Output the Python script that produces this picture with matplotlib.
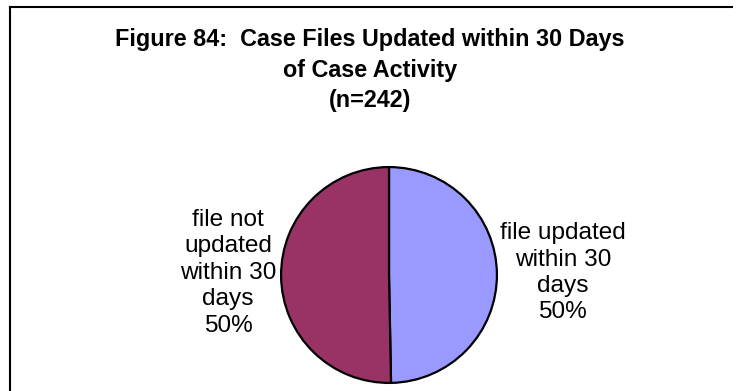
import matplotlib
matplotlib.use("Agg")
import matplotlib.pyplot as plt
from matplotlib.lines import Line2D

title = "Figure 84:  Case Files Updated within 30 Days\nof Case Activity\n(n=242)"
categories = ["file updated\nwithin 30\ndays", "file not\nupdated\nwithin 30\ndays"]
values = [49.7, 50.3]
pct_labels = ["50%", "50%"]
colors = ["#9999FF", "#993366"]

W, H = 737, 391
fig = plt.figure(figsize=(W / 100, H / 100), dpi=100)
fig.patch.set_facecolor("white")

# border (left and top visible)
fig.add_artist(Line2D([9.5 / W, 9.5 / W], [0, 1 - 6.5 / H], transform=fig.transFigure,
                      color="black", lw=1.5, solid_capstyle="projecting"))
fig.add_artist(Line2D([9.5 / W, 732 / W], [1 - 6.5 / H, 1 - 6.5 / H], transform=fig.transFigure,
                      color="black", lw=1.5, solid_capstyle="projecting"))

fig.text(370 / W, 1 - 70 / H, title, ha="center", va="center", fontsize=16.8,
         fontweight="bold", family="Liberation Sans", linespacing=1.4)

cx, cy, r = 389, 275, 109
ax = fig.add_axes([(cx - r) / W, 1 - (cy + r) / H, 2 * r / W, 2 * r / H])
labels = [c + "\n" + p for c, p in zip(categories, pct_labels)]
wedges, texts = ax.pie(values, labels=labels, colors=colors, startangle=90, counterclock=False,
                       wedgeprops=dict(edgecolor="black", linewidth=1.6),
                       textprops=dict(fontsize=17.6, family="Liberation Sans", multialignment="center",
                                      linespacing=1.26),
                       labeldistance=1.1)
ax.set_xlim(-1.01, 1.01)
ax.set_ylim(-1.01, 1.01)
ax.set_aspect("equal")
label_pos = [(1.61, 0.02), (-1.49, 0.02)]
for t, (x, y) in zip(texts, label_pos):
    t.set_ha("center")
    t.set_va("center")
    t.set_position((x, y))

fig.savefig("out.png", dpi=100)
